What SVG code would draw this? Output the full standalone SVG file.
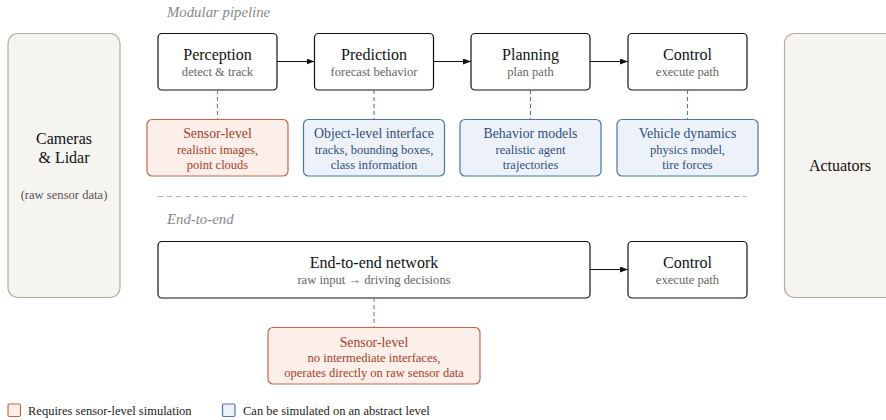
<svg xmlns="http://www.w3.org/2000/svg" width="886" height="420" viewBox="0 0 886 420">
<defs>
<marker id="arr" viewBox="0 0 8 6" refX="8" refY="3" markerWidth="8" markerHeight="6" markerUnits="userSpaceOnUse" orient="auto">
<path d="M0,0 L8,3 L0,6 z" fill="#111"/>
</marker>
<style>
text{font-family:"Liberation Serif","Times New Roman",serif;text-anchor:middle}
.io{fill:#f5f4f0;stroke:#b5ab9e;stroke-width:1.2}
.mod{fill:#fff;stroke:#111;stroke-width:1.2}
.red{fill:#fcefe9;stroke:#c9644c;stroke-width:1.2}
.blue{fill:#edf2fa;stroke:#4a76aa;stroke-width:1.2}
.t{font-size:16px;fill:#111}
.s{font-size:12.6px;fill:#666}
.rt{font-size:13.8px;fill:#a2412b}
.rs{font-size:12.5px;fill:#a2412b}
.bt{font-size:13.8px;fill:#2f4e7a}
.bs{font-size:12.5px;fill:#2f4e7a}
.sec{font-size:14.8px;font-style:italic;fill:#888;text-anchor:start}
.leg{font-size:12.5px;fill:#222;text-anchor:start}
.flow{stroke:#111;stroke-width:1.2;fill:none}
.dr{stroke:#c9644c;stroke-width:1.1;stroke-dasharray:4 3}
.db{stroke:#4a76aa;stroke-width:1.1;stroke-dasharray:4 3}
</style>
</defs>
<text class="sec" x="167" y="17">Modular pipeline</text>
<text class="sec" x="167" y="224">End-to-end</text>
<line x1="158" y1="196.5" x2="746" y2="196.5" stroke="#b8ab9a" stroke-width="1" stroke-dasharray="5 4"/>
<g id="cameras">
<rect class="io" x="8" y="33.5" width="112" height="264" rx="10"/>
<text class="t" x="64" y="144">Cameras</text>
<text class="t" x="64" y="163">&amp; Lidar</text>
<text class="s" x="64" y="199" style="fill:#555">(raw sensor data)</text>
</g>
<g id="actuators">
<rect class="io" x="784.5" y="33.5" width="120" height="264" rx="10"/>
<text class="t" x="840" y="171">Actuators</text>
</g>
<g id="perception">
<rect class="mod" x="158" y="33.5" width="119" height="56.5" rx="4"/>
<text class="t" x="217.5" y="60">Perception</text>
<text class="s" x="217.5" y="76">detect &amp; track</text>
</g>
<g id="prediction">
<rect class="mod" x="314.5" y="33.5" width="119" height="56.5" rx="4"/>
<text class="t" x="374" y="60">Prediction</text>
<text class="s" x="374" y="76">forecast behavior</text>
</g>
<g id="planning">
<rect class="mod" x="471" y="33.5" width="119" height="56.5" rx="4"/>
<text class="t" x="530.5" y="60">Planning</text>
<text class="s" x="530.5" y="76">plan path</text>
</g>
<g id="control">
<rect class="mod" x="628" y="33.5" width="119" height="56.5" rx="4"/>
<text class="t" x="687.5" y="60">Control</text>
<text class="s" x="687.5" y="76">execute path</text>
</g>
<g id="sensor-level">
<rect class="red" x="147" y="119.5" width="141" height="56.5" rx="5"/>
<text class="rt" x="217.5" y="138">Sensor-level</text>
<text class="rs" x="217.5" y="154">realistic images,</text>
<text class="rs" x="217.5" y="169">point clouds</text>
</g>
<g id="object-level">
<rect class="blue" x="303.5" y="119.5" width="141" height="56.5" rx="5"/>
<text class="bt" x="374" y="138">Object-level interface</text>
<text class="bs" x="374" y="154">tracks, bounding boxes,</text>
<text class="bs" x="374" y="169">class information</text>
</g>
<g id="behavior">
<rect class="blue" x="460" y="119.5" width="141" height="56.5" rx="5"/>
<text class="bt" x="530.5" y="138">Behavior models</text>
<text class="bs" x="530.5" y="154">realistic agent</text>
<text class="bs" x="530.5" y="169">trajectories</text>
</g>
<g id="vehicle">
<rect class="blue" x="617" y="119.5" width="141" height="56.5" rx="5"/>
<text class="bt" x="687.5" y="138">Vehicle dynamics</text>
<text class="bs" x="687.5" y="154">physics model,</text>
<text class="bs" x="687.5" y="169">tire forces</text>
</g>
<g id="e2e">
<rect class="mod" x="158" y="241.5" width="432" height="56.5" rx="4"/>
<text class="t" x="374" y="268">End-to-end network</text>
<text class="s" x="374" y="284">raw input → driving decisions</text>
</g>
<g id="control2">
<rect class="mod" x="628" y="241.5" width="119" height="56.5" rx="4"/>
<text class="t" x="687.5" y="268">Control</text>
<text class="s" x="687.5" y="284">execute path</text>
</g>
<g id="sensor-level2">
<rect class="red" x="268" y="327.5" width="212" height="56.5" rx="5"/>
<text class="rt" x="374" y="347">Sensor-level</text>
<text class="rs" x="374" y="362">no intermediate interfaces,</text>
<text class="rs" x="374" y="377">operates directly on raw sensor data</text>
</g>
<g id="connectors">
<line class="flow" x1="277" y1="61.5" x2="314.5" y2="61.5" marker-end="url(#arr)"/>
<line class="flow" x1="433.5" y1="61.5" x2="471" y2="61.5" marker-end="url(#arr)"/>
<line class="flow" x1="590" y1="61.5" x2="628" y2="61.5" marker-end="url(#arr)"/>
<line class="flow" x1="590" y1="269.5" x2="628" y2="269.5" marker-end="url(#arr)"/>
<line class="dr" x1="217.5" y1="90" x2="217.5" y2="119.5"/>
<line class="db" x1="374" y1="90" x2="374" y2="119.5"/>
<line class="db" x1="530.5" y1="90" x2="530.5" y2="119.5"/>
<line class="db" x1="687.5" y1="90" x2="687.5" y2="119.5"/>
<line class="dr" x1="374" y1="298" x2="374" y2="327.5"/>
</g>
<g id="legend">
<rect class="red" x="8" y="404" width="12.5" height="12.5" rx="1.5"/>
<text class="leg" x="28" y="415">Requires sensor-level simulation</text>
<rect class="blue" x="222.5" y="404" width="12.5" height="12.5" rx="1.5"/>
<text class="leg" x="243" y="415">Can be simulated on an abstract level</text>
</g>
</svg>
